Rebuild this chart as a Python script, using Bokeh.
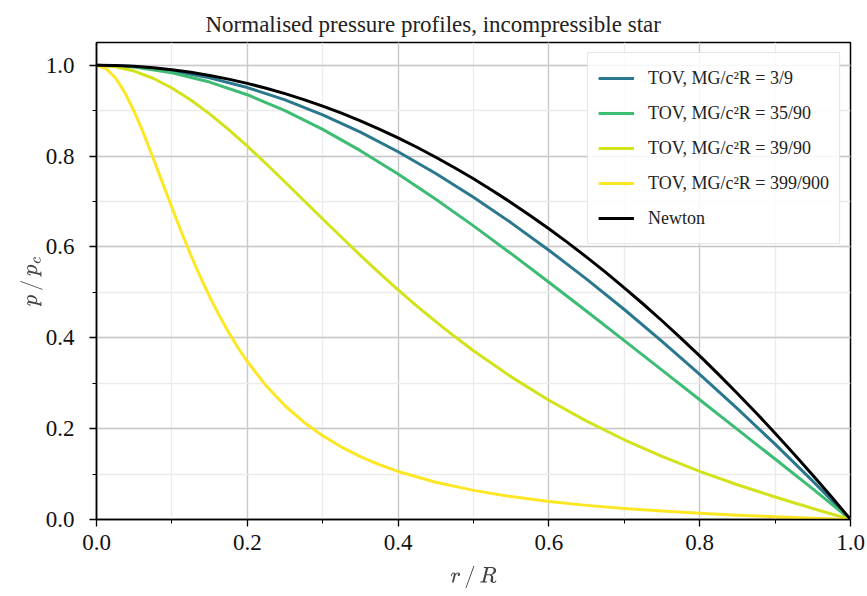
from bokeh.plotting import figure
from bokeh.models import Range1d, Legend, LegendItem, SingleIntervalTicker, PrintfTickFormatter
from bokeh.embed import file_html
from bokeh.resources import INLINE

r = [0.0, 0.05, 0.1, 0.15, 0.2, 0.25, 0.3, 0.35, 0.4, 0.45, 0.5,
     0.55, 0.6, 0.65, 0.7, 0.75, 0.8, 0.85, 0.9, 0.95, 1.0]

p_tov_3_9 = [1.0, 0.9969, 0.9876, 0.9722, 0.9508, 0.9236, 0.8909, 0.8528, 0.8096, 0.7617, 0.7094,
             0.6530, 0.5928, 0.5291, 0.4622, 0.3923, 0.3195, 0.2440, 0.1658, 0.0846, 0.0]
p_tov_35_90 = [1.0, 0.9958, 0.9834, 0.9629, 0.9350, 0.9000, 0.8587, 0.8119, 0.7604, 0.7049, 0.6463,
               0.5852, 0.5224, 0.4584, 0.3937, 0.3287, 0.2635, 0.1984, 0.1331, 0.0673, 0.0]

r_39 = [0.0, 0.025, 0.05, 0.075, 0.1, 0.125, 0.15, 0.175, 0.2, 0.225, 0.25, 0.275, 0.3,
        0.325, 0.35, 0.375, 0.4, 0.425, 0.45, 0.475, 0.5,
        0.55, 0.6, 0.65, 0.7, 0.75, 0.8, 0.85, 0.9, 0.95, 1.0]
p_tov_39_90 = [1.0, 0.9967, 0.9871, 0.9713, 0.9499, 0.9236, 0.8929, 0.8588, 0.8219, 0.7831, 0.7430,
               0.7023, 0.6615, 0.6212, 0.5815, 0.5430, 0.5057, 0.4698, 0.4355, 0.4027, 0.3715,
               0.3140, 0.2624, 0.2165, 0.1755, 0.1389, 0.1061, 0.0765, 0.0495, 0.0243, 0.0]

r_newton = [0.0, 0.025, 0.05, 0.075, 0.1, 0.125, 0.15, 0.175, 0.2, 0.225, 0.25, 0.275, 0.3,
            0.325, 0.35, 0.375, 0.4, 0.425, 0.45, 0.475, 0.5, 0.525, 0.55, 0.575, 0.6, 0.625,
            0.65, 0.675, 0.7, 0.725, 0.75, 0.775, 0.8, 0.825, 0.85, 0.875, 0.9, 0.925, 0.95,
            0.975, 1.0]
p_newton = [1.0, 0.9994, 0.9975, 0.9944, 0.99, 0.9844, 0.9775, 0.9694, 0.96, 0.9494, 0.9375,
            0.9244, 0.91, 0.8944, 0.8775, 0.8594, 0.84, 0.8194, 0.7975, 0.7744, 0.75, 0.7244,
            0.6975, 0.6694, 0.64, 0.6094, 0.5775, 0.5444, 0.51, 0.4744, 0.4375, 0.3994, 0.36,
            0.3194, 0.2775, 0.2344, 0.19, 0.1444, 0.0975, 0.0494, 0.0]

r_399 = [0.0, 0.0125, 0.025, 0.0375, 0.05, 0.0625, 0.075, 0.0875, 0.1, 0.1125, 0.125, 0.1375,
         0.15, 0.1625, 0.175, 0.1875, 0.2, 0.225, 0.25, 0.275, 0.3, 0.325, 0.35, 0.375, 0.4,
         0.45, 0.5, 0.55, 0.6, 0.65, 0.7, 0.75, 0.8, 0.85, 0.9, 0.95, 1.0]
p_tov_399_900 = [1.0, 0.9930, 0.9725, 0.9401, 0.8982, 0.8494, 0.7964, 0.7415, 0.6867, 0.6334,
                 0.5826, 0.5349, 0.4906, 0.4499, 0.4126, 0.3786, 0.3477, 0.2943, 0.2504, 0.2142,
                 0.1843, 0.1594, 0.1385, 0.1208, 0.1058, 0.0820, 0.0641, 0.0504, 0.0396, 0.0311,
                 0.0242, 0.0185, 0.0137, 0.0096, 0.0061, 0.0029, 0.0]

labels = ["TOV, MG/c\u00b2R = 3/9", "TOV, MG/c\u00b2R = 35/90", "TOV, MG/c\u00b2R = 39/90",
          "TOV, MG/c\u00b2R = 399/900", "Newton"]
colors = ["#2a788e", "#3dbc74", "#d2e21b", "#fde725", "#000000"]

SERIF = "Liberation Serif"

p = figure(width=867, height=596, x_range=Range1d(0, 1), y_range=Range1d(0, 1.05),
           output_backend="svg", toolbar_location=None,
           min_border_left=96, min_border_right=17, min_border_top=42, min_border_bottom=77)

p.title.text = "Normalised pressure profiles, incompressible star"
p.title.align = "left"
p.title.offset = 109
p.title.text_font = SERIF
p.title.text_font_size = "23px"
p.title.text_font_style = "normal"
p.title.text_color = "#222222"
p.title.standoff = 12

for ax in (p.xaxis[0], p.yaxis[0]):
    ax.ticker = SingleIntervalTicker(interval=0.2, num_minor_ticks=2)
    ax.formatter = PrintfTickFormatter(format="%.1f")
    ax.major_label_text_font = SERIF
    ax.major_label_text_font_size = "23px"
    ax.major_label_text_color = "#111111"
    ax.major_tick_out = 7
    ax.major_tick_in = 0
    ax.minor_tick_out = 4
    ax.minor_tick_in = 0
    ax.major_tick_line_width = 1.3
    ax.minor_tick_line_width = 1
    ax.axis_line_width = 1.5
    ax.axis_label_text_font = SERIF
    ax.axis_label_text_font_size = "20px"
    ax.axis_label_text_font_style = "normal"

p.xaxis.axis_label = r"$$r\,/\,R$$"
p.yaxis.axis_label = r"$$p\,/\,p_c$$"
p.xaxis.major_label_standoff = 8
p.yaxis.major_label_standoff = 15
p.xaxis.axis_label_standoff = 13
p.yaxis.axis_label_standoff = 0

for g in (p.xgrid[0], p.ygrid[0]):
    g.ticker = SingleIntervalTicker(interval=0.2, num_minor_ticks=2)
    g.grid_line_color = "#c8c8c8"
    g.grid_line_width = 1.3
    g.minor_grid_line_color = "#ebebeb"
    g.minor_grid_line_width = 1.3

p.outline_line_color = "black"
p.outline_line_width = 1.5
p.outline_line_alpha = 1

r1 = p.line(r, p_tov_3_9, line_color=colors[0], line_width=3, line_join="round")
r2 = p.line(r, p_tov_35_90, line_color=colors[1], line_width=3, line_join="round")
r3 = p.line(r_39, p_tov_39_90, line_color=colors[2], line_width=3, line_join="round")
r4 = p.line(r_399, p_tov_399_900, line_color=colors[3], line_width=3, line_join="round")
r5 = p.line(r_newton, p_newton, line_color=colors[4], line_width=3, line_join="round")

legend = Legend(items=[LegendItem(label=labels[i], renderers=[rr])
                       for i, rr in enumerate([r1, r2, r3, r4, r5])],
                location="top_right")
legend.label_text_font = SERIF
legend.label_text_font_size = "18px"
legend.label_text_color = "#222222"
legend.glyph_width = 36
legend.glyph_height = 30
legend.label_height = 30
legend.spacing = 5
legend.padding = 10
legend.label_standoff = 14
legend.border_line_color = "#cccccc"
legend.border_line_width = 1.5
legend.background_fill_alpha = 0.85
legend.margin = 10
p.add_layout(legend)

open("out.html", "w").write(file_html(p, INLINE))
